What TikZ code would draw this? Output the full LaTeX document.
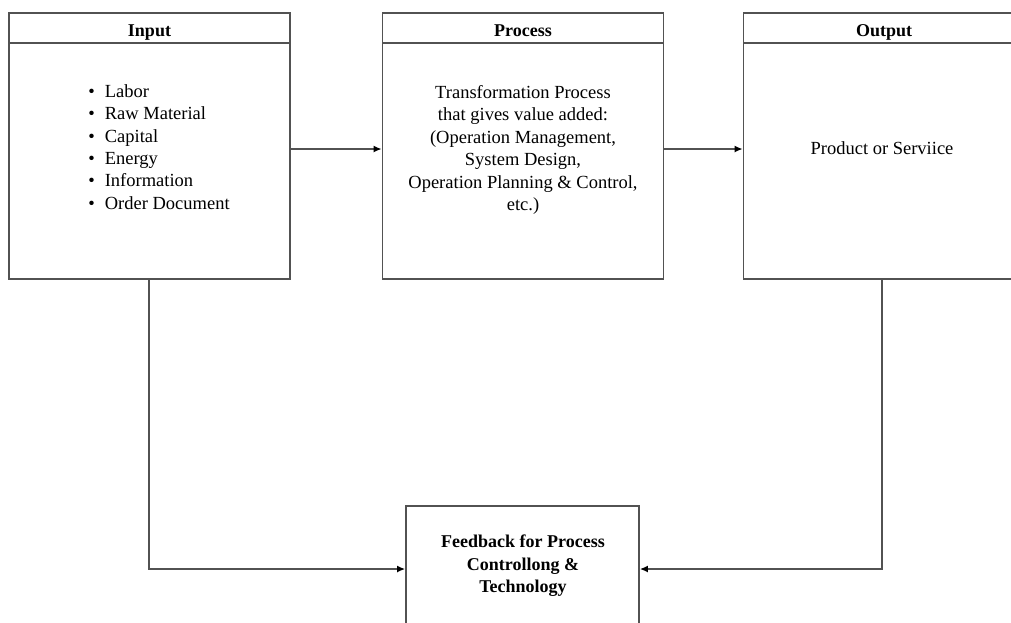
\documentclass[tikz,border=0pt]{standalone}
\usepackage{fontspec}
\setmainfont{Liberation Serif}
\usetikzlibrary{arrows.meta}
\begin{document}
\begin{tikzpicture}[x=1pt,y=-1pt,
  line/.style={draw=black!68, line width=1.7pt},
  box/.style={line, rectangle, minimum width=281pt, minimum height=266pt, inner sep=0pt},
  hdr/.style={line, rectangle, minimum width=281pt, minimum height=30pt, inner sep=0pt, text height=16pt, text depth=0pt, font=\fontsize{18}{20}\selectfont\bfseries},
  txt/.style={align=center, inner sep=0pt, font=\fontsize{18.5}{22.4}\selectfont},
  fb/.style={line, rectangle, minimum width=233pt, minimum height=126pt, inner sep=0pt},
  conn/.style={line, -{Latex[length=8pt,width=7pt,black]}}
]
\useasboundingbox (0,0) rectangle (1011,622);
\clip (0,0) rectangle (1011,622);
\fill[white] (0,0) rectangle (1011,622);

% boxes
\node[box] (in) at (149.5,146) {};
\node[hdr, anchor=north] (inh) at (in.north) {Input};
\node[box] (pr) at (523,146) {};
\node[hdr, anchor=north] (prh) at (pr.north) {Process};
\node[box] (out) at (884,146) {};
\node[hdr, anchor=north] (outh) at (out.north) {Output};
\node[fb] (fb) at (522.5,569) {};

% texts
\node[txt, align=left] (inl) at (159,147) {%
  \textbullet\hspace{10pt}Labor\\
  \textbullet\hspace{10pt}Raw Material\\
  \textbullet\hspace{10pt}Capital\\
  \textbullet\hspace{10pt}Energy\\
  \textbullet\hspace{10pt}Information\\
  \textbullet\hspace{10pt}Order Document};
\node[txt] (prl) at (523,150) {Transformation Process\\that gives value added:\\(Operation Management,\\System Design,\\Operation Planning \& Control,\\etc.)};
\node[txt] (outl) at (882,148) {Product or Serviice};
\node[txt, font=\fontsize{18}{22.4}\selectfont\bfseries] (fbl) at (523,566) {Feedback for Process\\Controllong \&\\Technology};

% connectors
\draw[conn] (in.east |- 0,149) -- (pr.west |- 0,149);
\draw[conn] (pr.east |- 0,149) -- (out.west |- 0,149);
\coordinate (c1) at (149,569);
\coordinate (c2) at (882,569);
\draw[conn] (in.south -| c1) -- (c1) -- (fb.west);
\draw[conn] (out.south -| c2) -- (c2) -- (fb.east);
\end{tikzpicture}
\end{document}
